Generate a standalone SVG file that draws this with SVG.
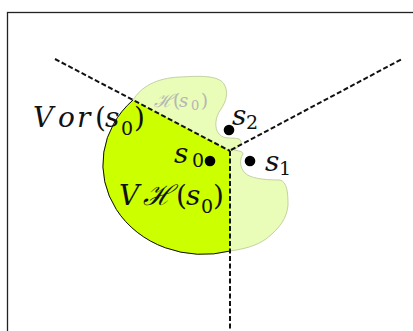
<svg xmlns="http://www.w3.org/2000/svg" width="413" height="331" viewBox="0 0 413 331">
<style>
.lbl{font-family:"DejaVu Serif","Liberation Serif",serif;font-style:italic;fill:#111}
.up{font-style:normal}
.dash{fill:none;stroke:#111;stroke-width:2;stroke-dasharray:5 2.5}
.dot{fill:#000}
</style>
<rect x="7.5" y="12.5" width="420" height="340" fill="#fff" stroke="#222" stroke-width="1.3"/>
<g id="hull">
<path d="M133,100 C141,87 156,78 180,77 C200,76 218,75 224,84 C229,92 226,102 221,109 C215,117 214,128 219,134 C224,140 233,137 239,139 C243,141 241,146 234,150 C238,151 243,151 243,154 C239,160 240,168 245,173 C250,178 262,180 280,180 C287,182 288,192 288,205 C287,218 280,228 266,239 C256,246 244,249 230,251 A100,90 0 0 1 133,100 Z" fill="#e9fcb8" stroke="#c4d2a4" stroke-width="1"/>
</g>
<g id="vh">
<path d="M133,100 L230,151 L230,251 A100,90 0 0 1 133,100 Z" fill="#ccff00" stroke="none"/>
<path d="M230,251 A100,90 0 0 1 133,100" fill="none" stroke="#111" stroke-width="1"/>
</g>
<g id="connectors">
<path class="dash" d="M55,59 L230,151"/>
<path class="dash" d="M231,150 L402,59"/>
<path class="dash" d="M230,151 L230,331"/>
</g>
<g id="s0"><circle class="dot" cx="210" cy="161" r="5.3"/>
<text class="lbl" font-size="28" x="174" y="163">s<tspan class="up" font-size="19" x="192" y="167">0</tspan></text></g>
<g id="s1"><circle class="dot" cx="250" cy="161" r="5.3"/>
<text class="lbl" font-size="28" x="265" y="171">s<tspan class="up" font-size="19" x="279" y="175">1</tspan></text></g>
<g id="s2"><circle class="dot" cx="229" cy="130" r="5.3"/>
<text class="lbl" font-size="28" x="232" y="125">s<tspan class="up" font-size="19" x="246" y="129">2</tspan></text></g>
<g id="vor">
<text class="lbl" font-size="28" y="127"><tspan x="33">V</tspan><tspan x="58">o</tspan><tspan x="77">r</tspan><tspan class="up" x="95">(</tspan><tspan x="105">s</tspan><tspan class="up" font-size="19" x="121" y="135">0</tspan><tspan class="up" x="134" y="127">)</tspan></text>
</g>
<g id="vhlabel">
<text class="lbl" font-size="28" y="205"><tspan x="119">V</tspan><tspan x="143">ℋ</tspan><tspan class="up" x="176">(</tspan><tspan x="186">s</tspan><tspan class="up" font-size="19" x="201" y="213">0</tspan><tspan class="up" x="213" y="205">)</tspan></text>
</g>
<g id="hlabel">
<text class="lbl" font-size="18" y="107" style="fill:#b5b5b5"><tspan x="154">ℋ</tspan><tspan class="up" x="173">(</tspan><tspan x="179">s</tspan><tspan class="up" font-size="13" x="191" y="110">0</tspan><tspan class="up" x="201" y="107">)</tspan></text>
</g>
</svg>
